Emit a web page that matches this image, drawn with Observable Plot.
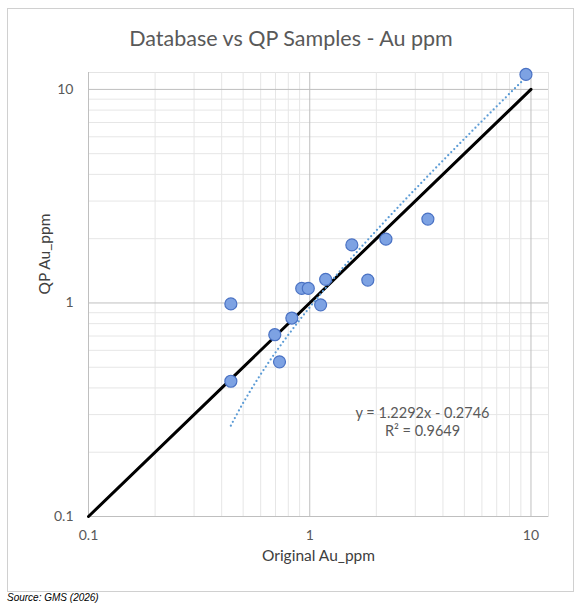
<!DOCTYPE html>
<html>
<head>
<meta charset="utf-8">
<script src="https://cdn.jsdelivr.net/npm/d3@7"></script>
<script src="https://cdn.jsdelivr.net/npm/@observablehq/plot@0.6"></script>
<style>
  html, body { margin: 0; padding: 0; background: #fff; }
  #page { position: relative; width: 582px; height: 610px; font-family: Lato, "Open Sans", sans-serif; }
  #frame { position: absolute; left: 7px; top: 8px; width: 567px; height: 584px; border: 1px solid #d0d0d0; box-sizing: border-box; }
  #title { position: absolute; left: 0; width: 582px; top: 25px; text-align: center; font-size: 21.5px; color: #595959; }
  #chart { position: absolute; left: 0; top: 64px; }
  #caption { position: absolute; left: 7px; top: 592px; font-family: "Liberation Sans", Arial, sans-serif; font-style: italic; font-size: 10px; color: #000; }
</style>
</head>
<body>
<div id="page">
  <div id="frame"></div>
  <div id="title">Database vs QP Samples - Au ppm</div>
  <div id="chart"></div>
  <div id="caption">Source: GMS (2026)</div>
</div>
<script>
// Sample values
const originalAu = [0.44, 0.44, 0.695, 0.73, 0.83, 0.92, 0.985, 1.12, 1.18, 1.55, 1.83, 2.21, 3.42, 9.49];
const qpAu       = [0.99, 0.43, 0.71, 0.53, 0.85, 1.17, 1.17, 0.98, 1.29, 1.87, 1.28, 1.99, 2.47, 11.75];

// Trendline coefficients as printed on the chart
const trendSlope = 1.2292;
const trendIntercept = -0.2746;
const trendLabel = ["y = 1.2292x - 0.2746", "R² = 0.9649"];

// 1:1 reference line
const oneToOne = [0.1, 10];

// Tick labels and grid
const majorTicks = [0.1, 1, 10];
const minorTicks = [0.2,0.3,0.4,0.5,0.6,0.7,0.8,0.9,2,3,4,5,6,7,8,9];
const axisDomain = [0.1, 12];

const points = originalAu.map((x, i) => ({x, y: qpAu[i]}));
const xMin = d3.min(originalAu), xMax = d3.max(originalAu);
const trendXs = d3.range(0, 201).map(i => xMin * Math.pow(xMax / xMin, i / 200));
const trend = trendXs.map(x => ({x, y: trendSlope * x + trendIntercept}));
const refLine = oneToOne.map(v => ({x: v, y: v}));

const gray = "#595959";
const chart = Plot.plot({
  width: 582,
  height: 521,
  marginLeft: 88,
  marginRight: 34,
  marginTop: 8,
  marginBottom: 69,
  style: {fontFamily: "Lato, 'Open Sans', sans-serif", background: "transparent", overflow: "visible"},
  x: {type: "log", domain: axisDomain, axis: null},
  y: {type: "log", domain: axisDomain, axis: null},
  marks: [
    Plot.frame({stroke: "#e4e4e4"}),
    Plot.gridX(minorTicks, {stroke: "#e6e6e6", strokeOpacity: 1}),
    Plot.gridY(minorTicks, {stroke: "#e6e6e6", strokeOpacity: 1}),
    Plot.gridX(majorTicks, {stroke: "#bfbfbf", strokeOpacity: 1}),
    Plot.gridY(majorTicks, {stroke: "#bfbfbf", strokeOpacity: 1}),
    Plot.axisX(majorTicks, {tickSize: 0, tickPadding: 14, tickFormat: d => String(d), fontSize: 14, fill: gray, label: null}),
    Plot.axisY(majorTicks, {tickSize: 0, tickPadding: 15, tickFormat: d => String(d), fontSize: 14, fill: gray, label: null}),
    Plot.line(refLine, {x: "x", y: "y", stroke: "#000", strokeWidth: 3}),
    Plot.line(trend, {x: "x", y: "y", stroke: "#5b9bd5", strokeWidth: 2.25, strokeDasharray: "0 4.3", strokeLinecap: "round"}),
    Plot.dot(points, {x: "x", y: "y", r: 6, fill: "#7da2e3", stroke: "#4a72c4", strokeWidth: 1.2}),
    Plot.text([trendLabel[0]], {frameAnchor: "bottom-right", dx: -126, dy: -99, text: d => d, fontSize: 14.5, fill: gray, textAnchor: "middle"}),
    Plot.text([trendLabel[1]], {frameAnchor: "bottom-right", dx: -126, dy: -81, text: d => d, fontSize: 14.5, fill: gray, textAnchor: "middle"}),
    Plot.text(["Original Au_ppm"], {frameAnchor: "bottom", dy: 44, text: d => d, fontSize: 15.5, fill: "#404040"}),
    Plot.text(["QP Au_ppm"], {frameAnchor: "left", dx: -43, rotate: -90, text: d => d, fontSize: 15.5, fill: "#404040"})
  ]
});
document.getElementById("chart").append(chart);
</script>
</body>
</html>
